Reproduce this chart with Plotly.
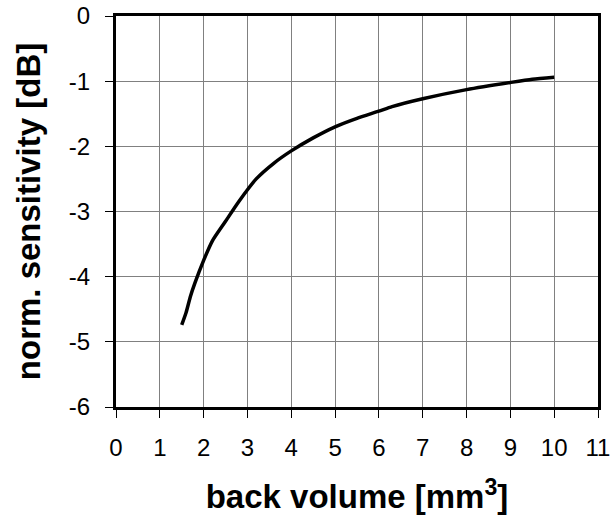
import plotly.graph_objects as go

# Normalised sensitivity versus back volume
back_volume = [1.5, 1.6, 1.7, 1.8, 2.0, 2.2, 2.5, 2.8, 3.2, 3.6, 4.0, 4.5,
               5.0, 5.5, 6.0, 6.3, 7.0, 8.0, 9.0, 9.5, 10.0]
sensitivity = [-4.74, -4.55, -4.3, -4.1, -3.75, -3.45, -3.15, -2.85, -2.5,
               -2.26, -2.07, -1.87, -1.7, -1.57, -1.46, -1.39, -1.27, -1.13,
               -1.02, -0.97, -0.94]

x_ticks = list(range(0, 12))
y_ticks = list(range(-6, 1))

fig = go.Figure()
fig.add_trace(go.Scatter(
    x=back_volume, y=sensitivity, mode="lines",
    line=dict(color="black", width=3.5, shape="spline", smoothing=0.6),
    showlegend=False,
))

axis_common = dict(
    showline=True, linecolor="black", linewidth=3, mirror=True,
    showgrid=True, gridcolor="#808080", gridwidth=1,
    ticks="outside", ticklen=8, tickwidth=1, tickcolor="black",
    zeroline=False, automargin=False,
    tickfont=dict(family="Liberation Sans, Arial", size=24, color="black"),
)

title_font = dict(family="Liberation Sans, Arial", size=33, color="black")

fig.update_layout(
    width=611, height=517,
    margin=dict(l=116, r=13, t=16, b=110),
    paper_bgcolor="white", plot_bgcolor="white",
    xaxis=dict(
        range=[0, 11], tickvals=x_ticks, ticktext=[str(v) for v in x_ticks],
        ticklabelstandoff=9,
        title=dict(text="<b>back volume [mm<sup>3</sup>]</b>",
                   font=title_font, standoff=26),
        **axis_common,
    ),
    yaxis=dict(
        range=[-6, 0], tickvals=y_ticks, ticktext=[str(v) for v in y_ticks],
        ticklabelstandoff=10,
        title=dict(text="<b>norm. sensitivity [dB]</b>",
                   font=title_font, standoff=19),
        **axis_common,
    ),
)

fig.write_html("out.html")
